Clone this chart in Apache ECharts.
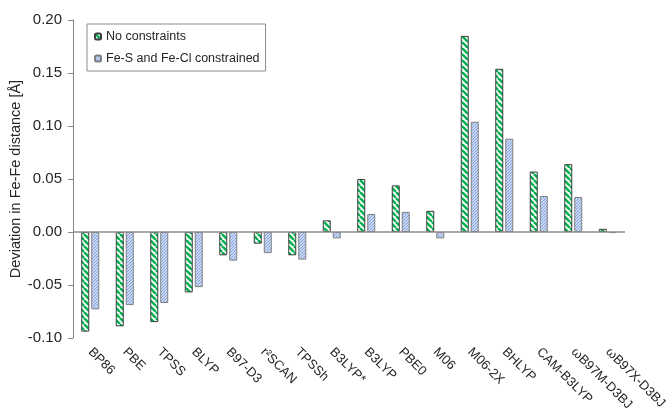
<!DOCTYPE html>
<html>
<head>
<meta charset="utf-8">
<script src="https://cdn.jsdelivr.net/npm/echarts@6/dist/echarts.min.js"></script>
<style>
  html, body { margin: 0; padding: 0; background: #fff; }
  #chart { width: 668px; height: 413px; }
</style>
</head>
<body>
<div id="chart"></div>
<script>
// Functionals compared
const functionals = ['BP86', 'PBE', 'TPSS', 'BLYP', 'B97-D3', 'r²SCAN', 'TPSSh', 'B3LYP*', 'B3LYP',
  'PBE0', 'M06', 'M06-2X', 'BHLYP', 'CAM-B3LYP', 'ωB97M-D3BJ', 'ωB97X-D3BJ'];

// Deviation in the Fe-Fe distance (Å)
const noConstraints = [-0.094, -0.089, -0.085, -0.057, -0.022, -0.011, -0.022, 0.011, 0.050,
  0.044, 0.020, 0.185, 0.154, 0.057, 0.064, 0.003];
const constrained = [-0.073, -0.069, -0.067, -0.052, -0.027, -0.020, -0.026, -0.006, 0.017,
  0.019, -0.006, 0.104, 0.088, 0.034, 0.033, -0.001];

const yTicks = [-0.10, -0.05, 0.00, 0.05, 0.10, 0.15, 0.20];

// Hatch fills for the two series
function stripeTile(size, lineWidth, color, bg, dir) {
  const c = document.createElement('canvas');
  c.width = size; c.height = size;
  const ctx = c.getContext('2d');
  ctx.fillStyle = bg;
  ctx.fillRect(0, 0, size, size);
  ctx.strokeStyle = color;
  ctx.lineWidth = lineWidth;
  for (let k = -1; k <= 1; k++) {
    ctx.beginPath();
    if (dir === 'back') {
      ctx.moveTo(k * size, 0);
      ctx.lineTo(k * size + size, size);
    } else {
      ctx.moveTo(k * size, size);
      ctx.lineTo(k * size + size, 0);
    }
    ctx.stroke();
  }
  return { image: c, repeat: 'repeat' };
}

const greenHatch = stripeTile(6, 2.5, '#00b050', '#ffffff', 'back');
const blueHatch = stripeTile(3, 1.1, '#7d9ee0', '#e3ebfa', 'fwd');

const textColor = '#262626';
const font = 'Liberation Sans, Arial, sans-serif';

const chart = echarts.init(document.getElementById('chart'), null, { renderer: 'canvas' });
chart.setOption({
  animation: false,
  textStyle: { fontFamily: font, color: textColor },
  grid: { left: 73, right: 43, top: 20, bottom: 75, outerBoundsMode: 'none', containLabel: false },
  legend: {
    orient: 'vertical',
    left: 87,
    top: 24,
    padding: [6, 6, 6, 7],
    itemGap: 9,
    itemWidth: 6,
    itemHeight: 6,
    borderColor: '#8c8c8c',
    borderWidth: 1,
    textStyle: { fontSize: 12.5, color: textColor, fontFamily: font },
    data: ['No constraints', 'Fe-S and Fe-Cl constrained']
  },
  xAxis: {
    type: 'category',
    data: functionals,
    axisLine: { show: false, onZero: false },
    axisTick: { show: false },
    axisLabel: {
      interval: 0,
      rotate: -45,
      margin: 12,
      fontSize: 13,
      color: textColor,
      fontFamily: font
    },
    splitLine: { show: false }
  },
  yAxis: {
    type: 'value',
    min: -0.1,
    max: 0.2,
    interval: 0.05,
    name: 'Deviation in Fe-Fe distance [Å]',
    nameLocation: 'middle',
    nameGap: 50,
    nameMoveOverlap: false,
    nameTextStyle: { fontSize: 14.5, color: textColor, fontFamily: font },
    axisLine: { show: true, lineStyle: { color: '#868686', width: 1 } },
    axisTick: { show: true, length: 5, lineStyle: { color: '#868686' } },
    axisLabel: {
      fontSize: 15,
      margin: 11,
      color: textColor,
      fontFamily: font,
      formatter: v => {
        const t = yTicks.find(x => Math.abs(x - v) < 1e-9);
        return (t === undefined ? v : t).toFixed(2);
      }
    },
    splitLine: { show: false }
  },
  series: [
    {
      name: 'No constraints',
      type: 'bar',
      data: noConstraints,
      barWidth: 8,
      barGap: '25%',
      itemStyle: { color: greenHatch, borderColor: '#3f3f3f', borderWidth: 1 },
      markLine: {
        silent: true,
        symbol: 'none',
        label: { show: false },
        lineStyle: { color: '#8c8c8c', width: 1.5, type: 'solid' },
        data: [{ yAxis: 0 }]
      }
    },
    {
      name: 'Fe-S and Fe-Cl constrained',
      type: 'bar',
      data: constrained,
      barWidth: 8,
      itemStyle: { color: blueHatch, borderColor: '#7f7f7f', borderWidth: 1 }
    }
  ]
});
</script>
</body>
</html>
